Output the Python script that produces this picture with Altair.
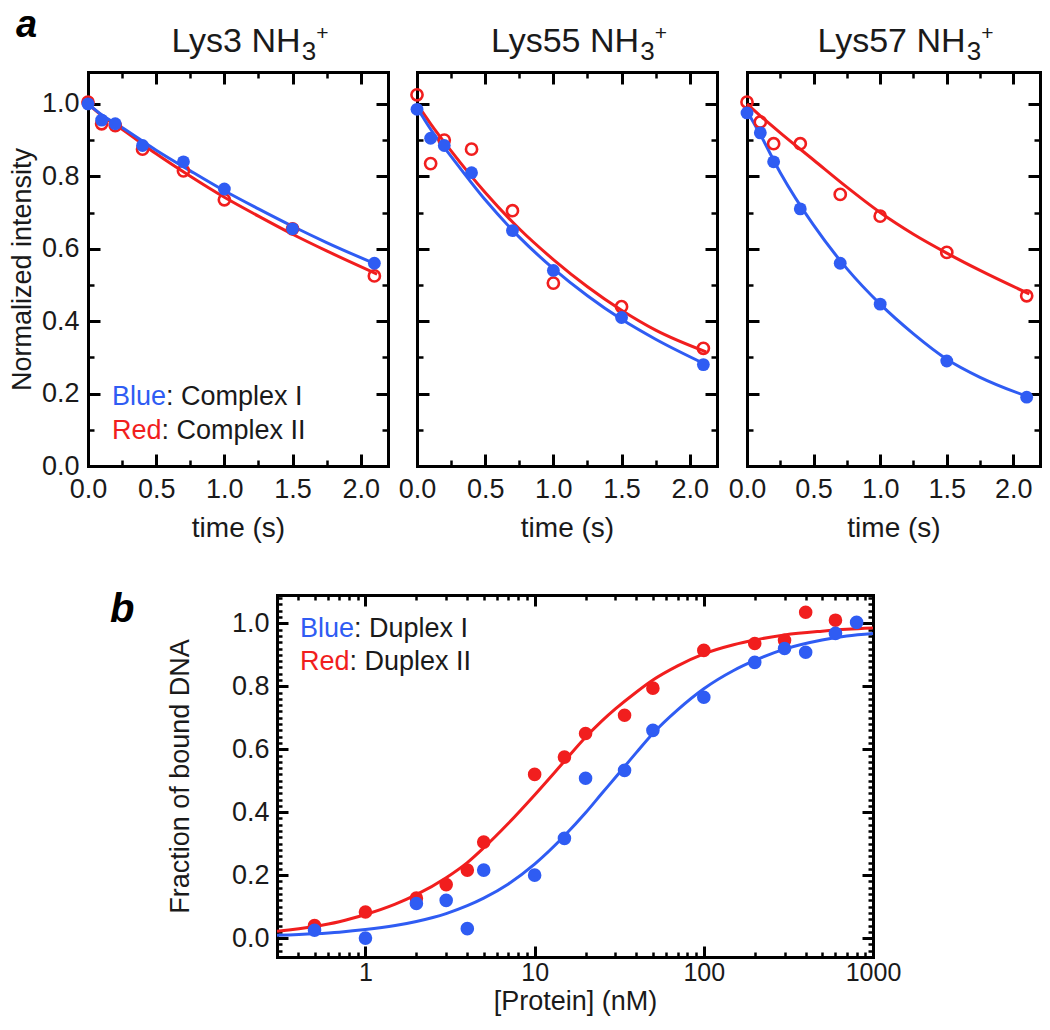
import altair as alt
import pandas as pd

# ---------------- data: panel a (normalized intensity vs time) ----------------
t_obs = [0.0, 0.1, 0.2, 0.4, 0.7, 1.0, 1.5, 2.1]
lys3_blue = [1.0, 0.955, 0.945, 0.885, 0.84, 0.765, 0.655, 0.56]
lys3_red = [1.005, 0.945, 0.94, 0.875, 0.815, 0.735, 0.655, 0.525]
lys55_blue = [0.985, 0.905, 0.885, 0.81, 0.65, 0.54, 0.41, 0.28]
lys55_red = [1.025, 0.835, 0.9, 0.875, 0.705, 0.505, 0.44, 0.325]
lys57_blue = [0.975, 0.92, 0.84, 0.71, 0.56, 0.447, 0.29, 0.19]
lys57_red = [1.005, 0.95, 0.89, 0.89, 0.75, 0.69, 0.59, 0.47]

t_fit = [0.0, 0.1, 0.25, 0.5, 0.75, 1.0, 1.25, 1.5, 1.75, 2.12]
lys3_blue_fit = [1.0, 0.97, 0.935, 0.872, 0.815, 0.76, 0.71, 0.662, 0.617, 0.556]
lys3_red_fit = [1.0, 0.968, 0.93, 0.862, 0.8, 0.742, 0.69, 0.64, 0.594, 0.53]
lys55_blue_fit = [0.99, 0.93, 0.855, 0.735, 0.632, 0.545, 0.47, 0.405, 0.35, 0.28]
lys55_red_fit = [1.0, 0.945, 0.87, 0.755, 0.655, 0.57, 0.495, 0.43, 0.375, 0.315]
lys57_blue_fit = [0.98, 0.915, 0.81, 0.665, 0.545, 0.447, 0.365, 0.295, 0.245, 0.19]
lys57_red_fit = [1.0, 0.967, 0.92, 0.845, 0.77, 0.70, 0.64, 0.588, 0.54, 0.475]

panel_names = ["Lys3", "Lys55", "Lys57"]

# ---------------- data: panel b (fraction bound vs protein) ----------------
conc_red = [0.5, 1, 2, 3, 4, 5, 10, 15, 20, 34, 50, 100, 200, 300, 400, 600]
frac_red = [0.04, 0.083, 0.127, 0.17, 0.216, 0.305, 0.52, 0.575, 0.65, 0.708, 0.794, 0.914, 0.936, 0.946, 1.035, 1.01]
conc_blue = [0.5, 1, 2, 3, 4, 5, 10, 15, 20, 34, 50, 100, 200, 300, 400, 600, 800]
frac_blue = [0.025, 0.0, 0.11, 0.12, 0.03, 0.216, 0.2, 0.317, 0.508, 0.533, 0.66, 0.765, 0.876, 0.92, 0.908, 0.968, 1.003]

conc_fit = [0.3, 0.5, 0.7, 1, 1.5, 2, 3, 4, 5, 7, 10, 15, 20, 25, 30, 40, 50, 70, 100, 150, 200, 300, 500, 700, 1000]
red_fit = [0.022, 0.037, 0.052, 0.075, 0.108, 0.138, 0.192, 0.24, 0.287, 0.365, 0.455, 0.562, 0.638, 0.69, 0.728,
           0.782, 0.82, 0.865, 0.903, 0.932, 0.947, 0.963, 0.975, 0.981, 0.985]
blue_fit = [0.009, 0.014, 0.019, 0.027, 0.040, 0.053, 0.078, 0.103, 0.127, 0.172, 0.235, 0.325, 0.398, 0.46, 0.51,
            0.59, 0.65, 0.725, 0.792, 0.85, 0.882, 0.918, 0.947, 0.96, 0.968]

# ---------------- tick values ----------------
a_x_major = [0.0, 0.5, 1.0, 1.5, 2.0]
a_x_minor = [0.25, 0.75, 1.25, 1.75]
a_y_major = [0.0, 0.2, 0.4, 0.6, 0.8, 1.0]
a_y_minor = [0.1, 0.3, 0.5, 0.7, 0.9]
b_x_major = [1, 10, 100, 1000]
b_x_minor = [0.4, 0.5, 0.6, 0.7, 0.8, 0.9, 2, 3, 4, 5, 6, 7, 8, 9,
             20, 30, 40, 50, 60, 70, 80, 90, 200, 300, 400, 500, 600, 700, 800, 900]
b_y_major = [0.0, 0.2, 0.4, 0.6, 0.8, 1.0]
b_y_minor = [-0.04, -0.02, 0.02, 0.04, 0.06, 0.08, 0.1, 0.12, 0.14, 0.16, 0.18,
             0.22, 0.24, 0.26, 0.28, 0.3, 0.32, 0.34, 0.36, 0.38,
             0.42, 0.44, 0.46, 0.48, 0.5, 0.52, 0.54, 0.56, 0.58,
             0.62, 0.64, 0.66, 0.68, 0.7, 0.72, 0.74, 0.76, 0.78,
             0.82, 0.84, 0.86, 0.88, 0.9, 0.92, 0.94, 0.96, 0.98, 1.02, 1.04, 1.06, 1.08]

# ---------------- styling / layout ----------------
BLUE = "#2f5cf3"
RED = "#f11e1e"
INK = "#1a1a1a"
FONT = "Liberation Sans"
W, H = 1034, 1010
M = 8
A_RECTS = [(88, 388), (417, 717), (747, 1040)]
A_TOP, A_BOT = 72, 466
B_L, B_R, B_T, B_B = 277, 873, 595, 957
TICK_FS = 27
TITLE_FS = 28

ARIAL = {'L': 0.556, 'y': 0.5, 's': 0.5, '3': 0.556, '5': 0.556, '7': 0.556, ' ': 0.278,
         'N': 0.722, 'H': 0.722, '+': 0.584, 'B': 0.667, 'l': 0.222, 'u': 0.556,
         'e': 0.556, 'R': 0.722, 'd': 0.556}


def tw(s, fs):
    return sum(ARIAL.get(c, 0.556) for c in s) * fs


def tick_axis(orient, offset, values, size, width=3, frame=False):
    d = dict(orient=orient, offset=offset, values=values, grid=False, labels=False,
             ticks=True, tickSize=size, tickWidth=width, tickColor="black",
             domain=frame, title=None)
    if frame:
        d.update(domainColor="black", domainWidth=3, domainCap="square")
    return alt.Axis(**d)


def label_axis(orient, offset, values, fmt, pad, title=None, title_pad=0, title_fs=TITLE_FS,
               label_fs=TICK_FS):
    d = dict(orient=orient, offset=offset, values=values, grid=False, ticks=False, domain=False,
             labels=True, labelFont=FONT, labelFontSize=label_fs, labelColor=INK,
             labelPadding=pad, format=fmt, labelFlush=False, labelOverlap=False,
             title=title)
    if title is not None:
        d.update(titleFont=FONT, titleFontSize=title_fs, titleColor=INK,
                 titleFontWeight="normal", titlePadding=title_pad)
    return alt.Axis(**d)


def text_layer(s, x, y, fs, color=INK, weight="normal", style="normal", align="left"):
    return alt.Chart(pd.DataFrame({"s": [s]})).mark_text(
        font=FONT, fontSize=fs, color=color, fontWeight=weight, fontStyle=style,
        align=align, baseline="alphabetic"
    ).encode(text="s:N", x=alt.value(x), y=alt.value(y))


layers = []


def panel_a(i, blue_pts, red_pts, bfit, rfit, name):
    x0, x1 = A_RECTS[i]
    L, R, T, Bt = x0 - M, x1 - M, A_TOP - M, A_BOT - M
    xs = alt.Scale(domain=[0, 2.2], range=[L, R], nice=False, zero=False)
    ys = alt.Scale(domain=[0, 1.088], range=[Bt, T], nice=False, zero=False)
    pts = pd.DataFrame({"t": t_obs, "blue": blue_pts, "red": red_pts})
    fit = pd.DataFrame({"t": t_fit, "blue": bfit, "red": rfit})

    def X(ax):
        return alt.X("t:Q", scale=xs, axis=ax)

    def Y(f, ax):
        return alt.Y(f + ":Q", scale=ys, axis=ax)

    xlab = label_axis("bottom", Bt - H, a_x_major, ".1f", 10, "time (s)", 12)
    ylab = label_axis("left", -L, a_y_major, ".1f", 9, "Normalized intensity", 5, 27) if i == 0 else None
    out = [
        alt.Chart(fit).mark_line(color=RED, strokeWidth=3, interpolate="monotone").encode(
            x=X(xlab), y=Y("red", ylab)),
        alt.Chart(fit).mark_line(color=BLUE, strokeWidth=3, interpolate="monotone").encode(
            x=X(tick_axis("top", -Bt, a_x_major, 12, frame=True)),
            y=Y("blue", tick_axis("right", L - W, a_y_major, 12, frame=True))),
        alt.Chart(pts).mark_point(shape="circle", filled=False, size=125, strokeWidth=2.6,
                                  color=RED, opacity=1).encode(
            x=X(tick_axis("top", -Bt, a_x_minor, 6, 2.5)),
            y=Y("red", tick_axis("right", L - W, a_y_minor, 6, 2.5))),
        alt.Chart(pts).mark_circle(size=165, color=BLUE, opacity=1).encode(
            x=X(tick_axis("bottom", T - H, a_x_major, 12, frame=True)),
            y=Y("blue", tick_axis("left", -R, a_y_major, 12, frame=True))),
        alt.Chart(pts).mark_circle(size=10, opacity=0).encode(
            x=X(tick_axis("bottom", T - H, a_x_minor, 6, 2.5)),
            y=Y("blue", tick_axis("left", -R, a_y_minor, 6, 2.5))),
    ]
    # panel title: "LysN NH" + subscript 3 + superscript +
    main = name + " NH"
    fs_main, fs_sub, fs_sup = 34, 26, 21
    total = tw(main, fs_main) + tw("3", fs_sub) + tw("+", fs_sup)
    cx = (x0 + x1) / 2 + 12 - M
    left = cx - total / 2
    out.append(text_layer(main, left, 52 - M, fs_main))
    out.append(text_layer("3", left + tw(main, fs_main), 60 - M, fs_sub))
    out.append(text_layer("+", left + tw(main, fs_main) + tw("3", fs_sub), 40 - M, fs_sup))
    return out


layers += panel_a(0, lys3_blue, lys3_red, lys3_blue_fit, lys3_red_fit, panel_names[0])
layers += panel_a(1, lys55_blue, lys55_red, lys55_blue_fit, lys55_red_fit, panel_names[1])
layers += panel_a(2, lys57_blue, lys57_red, lys57_blue_fit, lys57_red_fit, panel_names[2])

# legend of panel a
LEG_FS = 27
lx = A_RECTS[0][0] + 24 - M
layers.append(text_layer("Blue", lx, 405 - M, LEG_FS, color=BLUE))
layers.append(text_layer(": Complex I", lx + tw("Blue", LEG_FS), 405 - M, LEG_FS))
layers.append(text_layer("Red", lx, 439 - M, LEG_FS, color=RED))
layers.append(text_layer(": Complex II", lx + tw("Red", LEG_FS), 439 - M, LEG_FS))
layers.append(text_layer("a", 8, 37 - M, 38, color="black", weight="bold", style="italic"))

# ---------------- panel b ----------------
L, R, T, Bt = B_L - M, B_R - M, B_T - M, B_B - M
xs = alt.Scale(type="log", domain=[0.3, 1000], range=[L, R], nice=False)
ys = alt.Scale(domain=[-0.06, 1.09], range=[Bt, T], nice=False, zero=False)
red_df = pd.DataFrame({"c": conc_red, "f": frac_red})
blue_df = pd.DataFrame({"c": conc_blue, "f": frac_blue})
fit_df = pd.DataFrame({"c": conc_fit, "blue": blue_fit, "red": red_fit})


def BX(ax):
    return alt.X("c:Q", scale=xs, axis=ax)


def BY(f, ax):
    return alt.Y(f + ":Q", scale=ys, axis=ax)


layers += [
    alt.Chart(fit_df).mark_line(color=BLUE, strokeWidth=3, interpolate="monotone").encode(
        x=BX(label_axis("bottom", Bt - H, b_x_major, "d", 3, "[Protein] (nM)", 3, 27, 25)),
        y=BY("blue", label_axis("left", -L, b_y_major, ".1f", 8, "Fraction of bound DNA", 37, 27))),
    alt.Chart(fit_df).mark_line(color=RED, strokeWidth=3, interpolate="monotone").encode(
        x=BX(tick_axis("top", -Bt, b_x_major, 11, frame=True)),
        y=BY("red", tick_axis("right", L - W, b_y_major, 11, frame=True))),
    alt.Chart(red_df).mark_circle(size=185, color=RED, opacity=1).encode(
        x=BX(tick_axis("top", -Bt, b_x_minor, 5, 2.5)),
        y=BY("f", tick_axis("right", L - W, b_y_minor, 5, 2.5))),
    alt.Chart(blue_df).mark_circle(size=185, color=BLUE, opacity=1).encode(
        x=BX(tick_axis("bottom", T - H, b_x_major, 11, frame=True)),
        y=BY("f", tick_axis("left", -R, b_y_major, 11, frame=True))),
    alt.Chart(blue_df).mark_circle(size=10, opacity=0).encode(
        x=BX(tick_axis("bottom", T - H, b_x_minor, 5, 2.5)),
        y=BY("f", tick_axis("left", -R, b_y_minor, 5, 2.5))),
]
bx = B_L + 23 - M
layers.append(text_layer("Blue", bx, 637 - M, LEG_FS, color=BLUE))
layers.append(text_layer(": Duplex I", bx + tw("Blue", LEG_FS), 637 - M, LEG_FS))
layers.append(text_layer("Red", bx, 670 - M, LEG_FS, color=RED))
layers.append(text_layer(": Duplex II", bx + tw("Red", LEG_FS), 670 - M, LEG_FS))
layers.append(text_layer("b", 110 - M, 622 - M, 40, color="black", weight="bold", style="italic"))

chart = alt.layer(*layers).resolve_scale(x="independent", y="independent").properties(
    width=W, height=H, autosize=alt.AutoSizeParams(type="none"), padding=0
).configure_view(stroke=None)

chart.save("out.html", embed_options={"renderer": "svg", "actions": False})
